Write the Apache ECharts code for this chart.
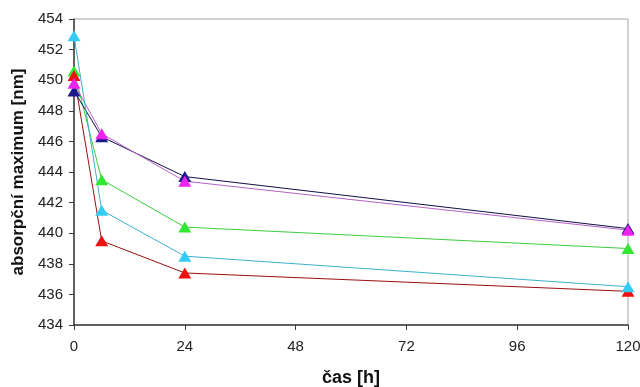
<!DOCTYPE html>
<html>
<head>
<meta charset="utf-8">
<script src="https://cdn.jsdelivr.net/npm/echarts@6/dist/echarts.min.js"></script>
<style>
  html, body { margin: 0; padding: 0; background: #fff; }
  #chart { width: 640px; height: 387px; }
</style>
</head>
<body>
<div id="chart"></div>
<script>
// Measurement times [h]
const times = [0, 6, 24, 120];

// Absorption maxima [nm] per sample
const seriesGreen   = [450.6, 443.5, 440.4, 439.0];
const seriesRed     = [450.3, 439.5, 437.4, 436.2];
const seriesNavy    = [449.3, 446.3, 443.7, 440.3];
const seriesMagenta = [449.8, 446.5, 443.4, 440.2];
const seriesCyan    = [452.9, 441.5, 438.5, 436.5];

// Axis ticks
const xTicks = { min: 0, max: 120, interval: 24 };
const yTicks = { min: 434, max: 454, interval: 2 };

const pairs = vals => times.map((t, i) => [t, vals[i]]);

function line(name, vals, lineColor, markColor) {
  return {
    name: name,
    type: 'line',
    data: pairs(vals),
    symbol: 'triangle',
    symbolSize: [13, 11],
    showAllSymbol: true,
    lineStyle: { color: lineColor, width: 1 },
    itemStyle: { color: markColor, borderWidth: 0 },
    emphasis: { disabled: true },
    animation: false
  };
}

const chart = echarts.init(document.getElementById('chart'), null, { renderer: 'canvas' });

const axisText = { color: '#222', fontFamily: 'Liberation Sans', fontSize: 15 };
const nameText = { color: '#111', fontFamily: 'Liberation Sans', fontSize: 17, fontWeight: 'bold' };

chart.setOption({
  backgroundColor: '#ffffff',
  animation: false,
  grid: {
    left: 74, right: 12, top: 19, bottom: 62,
    outerBoundsMode: 'none',
    containLabel: false,
    show: true, borderColor: '#a6a6a6', borderWidth: 1, backgroundColor: 'transparent'
  },
  xAxis: {
    type: 'value',
    min: xTicks.min, max: xTicks.max, interval: xTicks.interval,
    name: 'čas [h]',
    nameLocation: 'middle',
    nameGap: 44,
    nameTextStyle: Object.assign({}, nameText, { fontSize: 18 }),
    axisLine: { show: true, lineStyle: { color: '#3a3a3a', width: 1.5 } },
    axisTick: { show: true, inside: false, length: 5, lineStyle: { color: '#3a3a3a' } },
    axisLabel: Object.assign({ margin: 14 }, axisText),
    splitLine: { show: false }
  },
  yAxis: {
    type: 'value',
    min: yTicks.min, max: yTicks.max, interval: yTicks.interval,
    name: 'absorpční maximum [nm]',
    nameLocation: 'middle',
    nameGap: 43,
    nameTextStyle: nameText,
    axisLine: { show: true, lineStyle: { color: '#3a3a3a', width: 1.5 } },
    axisTick: { show: true, inside: false, length: 5, lineStyle: { color: '#3a3a3a' } },
    axisLabel: Object.assign({ margin: 11 }, axisText),
    splitLine: { show: false }
  },
  series: [
    line('green', seriesGreen, '#3acc3a', '#33e633'),
    line('red', seriesRed, '#9a1010', '#ee1111'),
    line('navy', seriesNavy, '#10104a', '#1a1a8c'),
    line('magenta', seriesMagenta, '#b860c8', '#ee22ee'),
    line('cyan', seriesCyan, '#38b0d0', '#33ccf5')
  ]
});
</script>
</body>
</html>
